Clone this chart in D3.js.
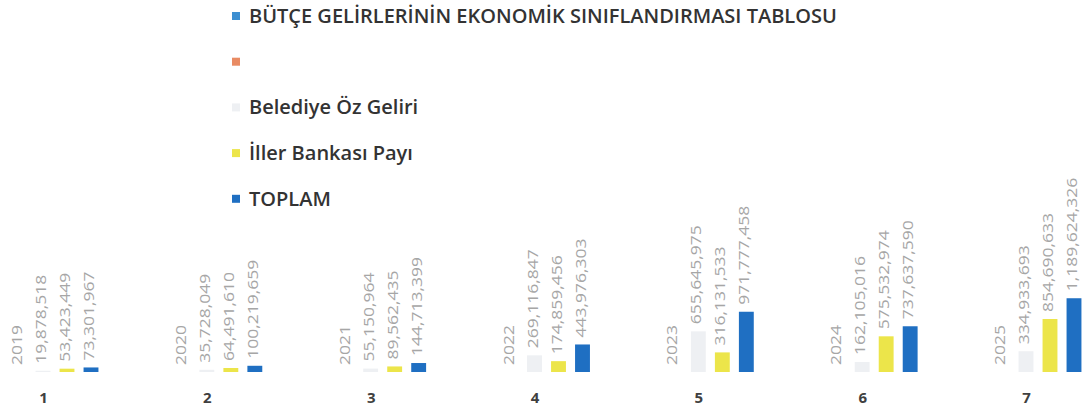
<!DOCTYPE html>
<html>
<head>
<meta charset="utf-8">
<script src="https://cdn.jsdelivr.net/npm/d3@7"></script>
<style>
  body { margin: 0; background: #fff; }
  #chart text { font-family: 'Open Sans', 'Liberation Sans', sans-serif; }
</style>
</head>
<body>
<div id="chart"></div>
<script>
var categories = ['1', '2', '3', '4', '5', '6', '7'];
var butceYears = [2019, 2020, 2021, 2022, 2023, 2024, 2025];
var emptySeries = [null, null, null, null, null, null, null];
var belediyeOzGeliri = [19878518, 35728049, 55150964, 269116847, 655645975, 162105016, 334933693];
var illerBankasiPayi = [53423449, 64491610, 89562435, 174859456, 316131533, 575532974, 854690633];
var toplam = [73301967, 100219659, 144713399, 443976303, 971777458, 737637590, 1189624326];

var series = [
    { key: 'bos', name: '', values: emptySeries, color: '#e98b63' },
    { key: 'butce', name: 'BÜTÇE GELİRLERİNİN EKONOMİK SINIFLANDIRMASI TABLOSU', values: butceYears, color: '#3d8fd1' },
    { key: 'belediye', name: 'Belediye Öz Geliri', values: belediyeOzGeliri, color: '#eef0f3' },
    { key: 'iller', name: 'İller Bankası Payı', values: illerBankasiPayi, color: '#ece54a' },
    { key: 'toplam', name: 'TOPLAM', values: toplam, color: '#1f6fc2' }
];
// legend order as in the original
var legendOrder = ['butce', 'bos', 'belediye', 'iller', 'toplam'];

var W = 1082, H = 415;
var baseY = 372;

var svg = d3.select('#chart').append('svg')
    .attr('width', W)
    .attr('height', H);

var x = d3.scalePoint()
    .domain(categories)
    .range([43, 1026]);

var xs = d3.scaleBand()
    .domain(series.map(function (s) { return s.key; }))
    .range([-60, 60])
    .paddingInner(0.38)
    .paddingOuter(0.19);

var y = d3.scaleLinear()
    .domain([0, 6e9])
    .range([baseY, 0]);

var fmt = d3.format(',');

// bars
var groups = svg.append('g').selectAll('.grp')
    .data(series)
    .enter()
    .append('g')
    .attr('class', 'grp');

groups.selectAll('rect')
    .data(function (s) {
        return s.values.map(function (v, i) { return { key: s.key, cat: categories[i], v: v, color: s.color }; })
            .filter(function (d) { return d.v !== null; });
    })
    .enter()
    .append('rect')
    .attr('x', function (d) { return x(d.cat) + xs(d.key); })
    .attr('y', function (d) { return y(d.v); })
    .attr('width', xs.bandwidth())
    .attr('height', function (d) { return baseY - y(d.v); })
    .attr('fill', function (d) { return d.color; });

// value labels, rotated
groups.selectAll('.lbl')
    .data(function (s) {
        return s.values.map(function (v, i) { return { key: s.key, cat: categories[i], v: v }; })
            .filter(function (d) { return d.v !== null; });
    })
    .enter()
    .append('text')
    .attr('class', 'lbl')
    .attr('transform', function (d) {
        var cx = x(d.cat) + xs(d.key) + xs.bandwidth() / 2 + 3;
        return 'translate(' + cx + ',' + (y(d.v) - 7) + ') rotate(-90) scale(1.25,1)';
    })
    .attr('font-size', 14)
    .attr('fill', '#a6a6a6')
    .text(function (d) { return d.key === 'butce' ? d.v : fmt(d.v); });

// x axis
var xAxis = d3.axisBottom(x).tickSize(0).tickPadding(0);
svg.append('g')
    .attr('transform', 'translate(0,' + (baseY + 20) + ')')
    .call(function (g) {
        g.call(xAxis);
        g.select('.domain').remove();
        g.selectAll('.tick text')
            .attr('font-size', 15)
            .attr('font-weight', 'bold')
            .attr('fill', '#404040')
            .attr('font-family', "'Open Sans', sans-serif");
    });

// legend
var legend = svg.append('g').attr('transform', 'translate(232,16)');
var legendItems = legend.selectAll('.leg')
    .data(legendOrder.map(function (k) { return series.find(function (s) { return s.key === k; }); }))
    .enter()
    .append('g')
    .attr('transform', function (d, i) { return 'translate(0,' + (i * 45.7) + ')'; });

legendItems.append('rect')
    .attr('x', 0)
    .attr('y', -4)
    .attr('width', 8)
    .attr('height', 8)
    .attr('fill', function (d) { return d.color; });

legendItems.append('text')
    .attr('x', 17)
    .attr('dy', '0.35em')
    .attr('font-size', 20)
    .attr('font-weight', 600)
    .attr('fill', '#333')
    .text(function (d) { return d.name; });
</script>
</body>
</html>
